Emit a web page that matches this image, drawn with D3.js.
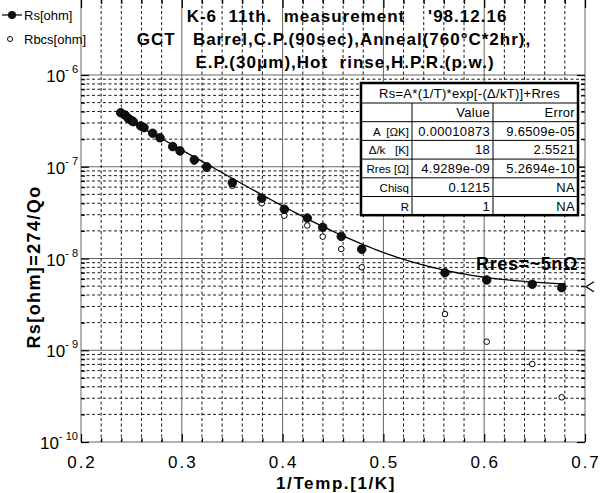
<!DOCTYPE html>
<html>
<head>
<meta charset="utf-8">
<style>
  body { margin: 0; background: #fff; }
  svg { font-family: "Liberation Sans", Arial, sans-serif; }
  .grid line { stroke: #000; stroke-width: 0.9; stroke-dasharray: 3,2.5; }
  .grid line.major { stroke: #555; stroke-dasharray: none; }
  .ticks path { display: none; }
  .ticks line { stroke: #000; stroke-width: 1.2; }
  .tbl text { font-size: 13px; letter-spacing: 0.3px; }
  .tbl text.lbl { font-size: 11.5px; letter-spacing: 0; }
</style>
<script src="https://d3js.org/d3.v7.min.js"></script>
</head>
<body>
<div id="chart"></div>
<script>
// measured points (1/T, resistance)
var rsX = [0.2394, 0.2437, 0.2469, 0.2503, 0.2519, 0.2592, 0.2625, 0.2711, 0.2784, 0.2910, 0.2982, 0.3124,
           0.3247, 0.3501, 0.3793, 0.4017, 0.4245, 0.4398, 0.4582, 0.4785, 0.5611, 0.6025, 0.6477, 0.6769];
var rsY = [3.88e-7, 3.66e-7, 3.37e-7, 3.18e-7, 3.10e-7, 2.78e-7, 2.67e-7, 2.32e-7, 2.07e-7, 1.66e-7, 1.49e-7, 1.19e-7,
           1.00e-7, 6.70e-8, 4.53e-8, 3.44e-8, 2.76e-8, 2.19e-8, 1.74e-8, 1.26e-8, 7.00e-9, 5.83e-9, 5.24e-9, 4.81e-9];
var rbcsY = [3.83e-7, 3.61e-7, 3.32e-7, 3.13e-7, 3.05e-7, 2.73e-7, 2.62e-7, 2.27e-7, 2.02e-7, 1.61e-7, 1.44e-7, 1.14e-7,
             9.5e-8, 6.2e-8, 4.00e-8, 2.93e-8, 2.29e-8, 1.73e-8, 1.27e-8, 8.02e-9, 2.48e-9, 1.24e-9, 7.08e-10, 3.07e-10];

// fit parameters from the table
var fitA = 0.00010873, fitDk = 18, fitRres = 4.9289e-9;
var fitRange = [0.237, 0.682];

var tableTitle = "Rs=A*(1/T)*exp[-(\u0394/kT)]+Rres";
var tableHead = ["", "Value", "Error"];
var tableRows = [
  ["A  [\u03A9K]", "0.00010873", "9.6509e-05"],
  ["\u0394/k   [K]", "18", "2.5521"],
  ["Rres [\u03A9]", "4.9289e-09", "5.2694e-10"],
  ["Chisq", "0.1215", "NA"],
  ["R", "1", "NA"]
];

var xTicks = [0.2, 0.3, 0.4, 0.5, 0.6, 0.7];
var yDecades = [-10, -9, -8, -7, -6];

var W = 614, H = 493;
var svg = d3.select("#chart").append("svg").attr("width", W).attr("height", H);

var x = d3.scaleLinear().domain([0.2, 0.7]).range([81, 585]);
var y = d3.scaleLog().domain([1e-10, 1e-6]).range([442, 75]);
var left = x.range()[0], right = x.range()[1], top = y.range()[1], bottom = y.range()[0];

// all minor positions
var yMinor = [];
yDecades.slice(0, -1).forEach(function (e) {
  for (var k = 1; k <= 9; k++) yMinor.push(k * Math.pow(10, e));
});
yMinor.push(1e-6);
var xMinor = d3.range(0, 26).map(function (i) { return +(0.2 + i * 0.02).toFixed(2); });
var isMajorX = function (v) { return Math.abs(v * 10 - Math.round(v * 10)) < 1e-6; };
var isMajorY = function (v) { return Math.abs(Math.log10(v) - Math.round(Math.log10(v))) < 1e-6; };

// grid
var grid = svg.append("g").attr("class", "grid");
grid.selectAll("line.h").data(yMinor).enter().append("line")
  .attr("class", function (d) { return isMajorY(d) ? "major" : "h"; })
  .attr("x1", left).attr("x2", right)
  .attr("y1", function (d) { return y(d); }).attr("y2", function (d) { return y(d); });
grid.selectAll("line.v").data(xMinor).enter().append("line")
  .attr("class", function (d) { return isMajorX(d) ? "major" : "v"; })
  .attr("y1", top).attr("y2", bottom)
  .attr("x1", function (d) { return x(d); }).attr("x2", function (d) { return x(d); });

// ticks (inward) on all four sides
function tickLen(maj) { return maj ? -8 : -4; }
[["l", d3.axisLeft(y), left], ["r", d3.axisRight(y), right]].forEach(function (a) {
  var g = svg.append("g").attr("class", "ticks").attr("transform", "translate(" + a[2] + ",0)")
    .call(a[1].tickValues(yMinor).tickFormat("").tickSizeOuter(0));
  g.selectAll(".tick line").attr("x2", function (d) {
    return (a[0] === "l" ? -1 : 1) * tickLen(isMajorY(d));
  });
});
[["b", d3.axisBottom(x), bottom], ["t", d3.axisTop(x), top]].forEach(function (a) {
  var g = svg.append("g").attr("class", "ticks").attr("transform", "translate(0," + a[2] + ")")
    .call(a[1].tickValues(xMinor).tickFormat("").tickSizeOuter(0));
  g.selectAll(".tick line").attr("y2", function (d) {
    return (a[0] === "b" ? 1 : -1) * tickLen(isMajorX(d));
  });
});

// frame
svg.append("rect").attr("x", left).attr("y", top)
  .attr("width", right - left).attr("height", bottom - top)
  .attr("fill", "none").attr("stroke", "#000").attr("stroke-width", 2.2);

// x labels
svg.append("g").selectAll("text").data(xTicks).enter().append("text")
  .attr("x", function (d) { return x(d) + 1; }).attr("y", 468)
  .attr("text-anchor", "middle").style("font-size", "17px").style("letter-spacing", "2px")
  .text(function (d) { return d3.format(".1f")(d); });

// y labels 10^n
var yl = svg.append("g").selectAll("text").data(yDecades).enter().append("text")
  .attr("x", 78).attr("y", function (d) { return y(Math.pow(10, d)) + 7; })
  .attr("text-anchor", "end").style("font-size", "17px");
yl.append("tspan").text("10");
yl.append("tspan").attr("dy", -9).style("font-size", "11px").style("white-space", "pre")
  .text(function (d) { return "- " + (-d); });

// axis titles
svg.append("text").attr("x", 336).attr("y", 489).attr("text-anchor", "middle")
  .style("font-size", "17px").style("font-weight", "bold").style("letter-spacing", "1.6px")
  .text("1/Temp.[1/K]");
svg.append("text").attr("transform", "translate(40,267) rotate(-90)").attr("text-anchor", "middle")
  .style("font-size", "18px").style("font-weight", "bold").style("letter-spacing", "1.4px")
  .text("Rs[ohm]=274/Qo");

// fit curve
var fitX = d3.range(fitRange[0], fitRange[1] + 1e-9, 0.004);
var fitLine = d3.line()
  .x(function (d) { return x(d); })
  .y(function (d) { return y(fitA * d * Math.exp(-fitDk * d) + fitRres); });
svg.append("path").datum(fitX).attr("d", fitLine)
  .attr("fill", "none").attr("stroke", "#000").attr("stroke-width", 1.3);

// open points (Rbcs)
svg.append("g").selectAll("circle").data(rsX).enter().append("circle")
  .attr("cx", function (d) { return x(d); })
  .attr("cy", function (d, i) { return y(rbcsY[i]); })
  .attr("r", 2.8).attr("fill", "#fff").attr("stroke", "#000").attr("stroke-width", 1);

// filled points (Rs)
svg.append("g").selectAll("circle").data(rsX).enter().append("circle")
  .attr("cx", function (d) { return x(d); })
  .attr("cy", function (d, i) { return y(rsY[i]); })
  .attr("r", 4.3).attr("fill", "#111").attr("stroke", "#000").attr("stroke-width", 0.8);

// Rres arrow marker on the right edge
var ay = y(fitRres);
svg.append("path")
  .attr("d", "M" + (right + 9) + "," + (ay - 5) + "L" + (right + 1) + "," + ay + "L" + (right + 9) + "," + (ay + 5))
  .attr("fill", "none").attr("stroke", "#000").attr("stroke-width", 1.3);

svg.append("text").attr("x", 578).attr("y", 270).attr("text-anchor", "end")
  .style("font-size", "18px").style("font-weight", "bold").style("letter-spacing", "0.6px")
  .text("Rres=~5n\u03A9");

// fit table
var tb = svg.append("g").attr("class", "tbl");
var tx = [361, 412, 493, 578];
var ty = [83, 103];
tableRows.forEach(function () { ty.push(ty[ty.length - 1] + 18.7); });
ty.push(ty[ty.length - 1] + 18.7);
var tBottom = ty[ty.length - 1];
tb.append("rect").attr("x", tx[0]).attr("y", ty[0]).attr("width", tx[3] - tx[0]).attr("height", tBottom - ty[0])
  .attr("fill", "#fff").attr("stroke", "#000").attr("stroke-width", 2.5);
ty.slice(1, -1).forEach(function (yy) {
  tb.append("line").attr("x1", tx[0]).attr("x2", tx[3]).attr("y1", yy).attr("y2", yy)
    .attr("stroke", "#000").attr("stroke-width", 1);
});
[tx[1], tx[2]].forEach(function (xx) {
  tb.append("line").attr("x1", xx).attr("x2", xx).attr("y1", ty[1]).attr("y2", tBottom)
    .attr("stroke", "#000").attr("stroke-width", 1);
});
tb.append("text").attr("x", (tx[0] + tx[3]) / 2).attr("y", ty[0] + 15).attr("text-anchor", "middle")
  .style("white-space", "pre").text(tableTitle);
[tableHead].concat(tableRows).forEach(function (row, r) {
  row.forEach(function (cell, c) {
    tb.append("text").attr("class", c === 0 ? "lbl" : null)
      .attr("x", tx[c + 1] - 3).attr("y", ty[r + 1] + 14)
      .attr("text-anchor", "end").style("white-space", "pre").text(cell);
  });
});

// titles
var titles = [
  ["K-6  11th.  measurement    '98.12.16", 347, 22],
  ["GCT   Barrel,C.P.(90sec),Anneal(760\u00B0C*2hr),", 334, 45],
  ["E.P.(30\u03BCm),Hot  rinse,H.P.R.(p.w.)", 345, 68]
];
svg.append("g").selectAll("text").data(titles).enter().append("text")
  .attr("x", function (d) { return d[1]; }).attr("y", function (d) { return d[2]; })
  .attr("text-anchor", "middle").style("white-space", "pre")
  .style("font-size", "17px").style("font-weight", "bold").style("letter-spacing", "1px")
  .text(function (d) { return d[0]; });

// legend
var lg = svg.append("g");
lg.append("line").attr("x1", 2).attr("x2", 22).attr("y1", 15).attr("y2", 15).attr("stroke", "#000").attr("stroke-width", 1.2);
lg.append("circle").attr("cx", 12).attr("cy", 15).attr("r", 4).attr("fill", "#111");
lg.append("circle").attr("cx", 10).attr("cy", 39).attr("r", 2.5).attr("fill", "#fff").attr("stroke", "#000");
lg.append("text").attr("x", 24).attr("y", 20).style("font-size", "13px").text("Rs[ohm]");
lg.append("text").attr("x", 24).attr("y", 44).style("font-size", "13px").text("Rbcs[ohm]");
</script>
</body>
</html>
